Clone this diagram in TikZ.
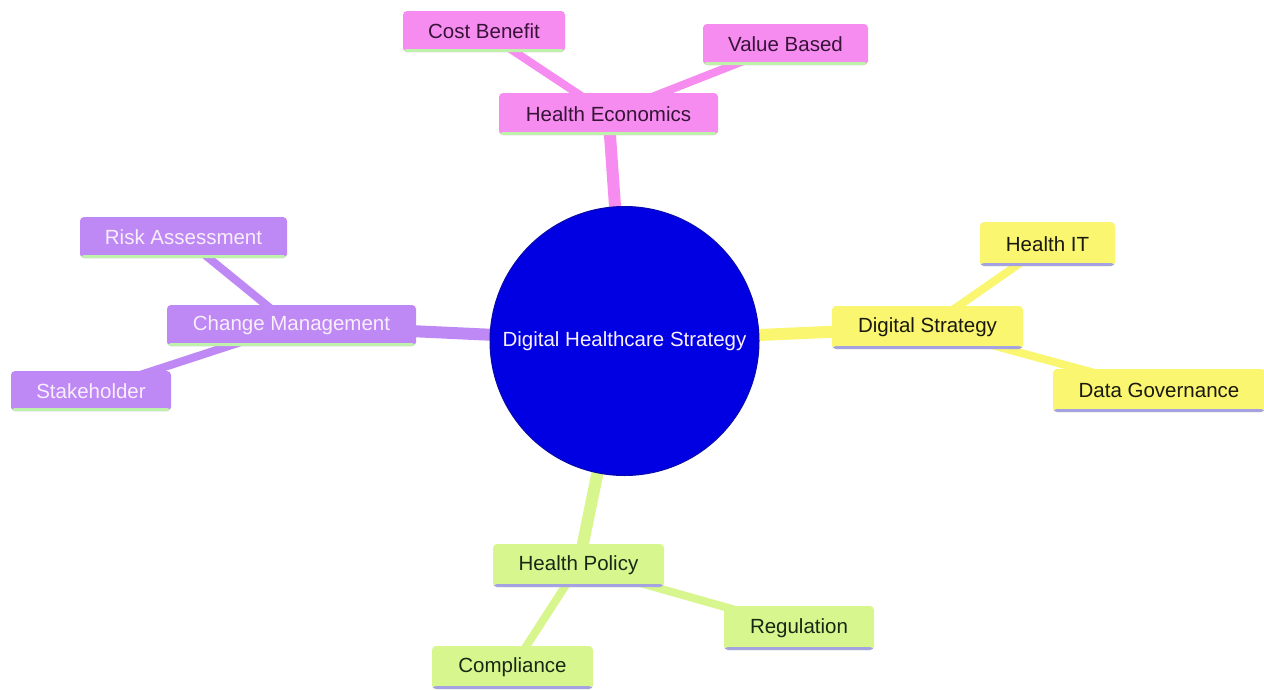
\documentclass[tikz,border=0pt]{standalone}
\usepackage{fontspec}
\setmainfont{Liberation Sans}
\usetikzlibrary{backgrounds}
\definecolor{pinkc}{RGB}{246,140,240}
\definecolor{purpc}{RGB}{190,136,245}
\definecolor{yelc}{RGB}{250,246,112}
\definecolor{grnc}{RGB}{216,246,142}
\definecolor{bluec}{RGB}{0,0,226}
\definecolor{bluedge}{RGB}{10,10,170}
\definecolor{greenstripe}{RGB}{190,242,170}
\definecolor{lavstripe}{RGB}{165,162,225}
\definecolor{pinktext}{RGB}{55,20,55}
\definecolor{purptext}{RGB}{248,238,252}
\definecolor{yeltext}{RGB}{25,25,15}
\definecolor{grntext}{RGB}{25,40,20}
\tikzset{
  box/.style n args={3}{rectangle, rounded corners=4pt, inner sep=0pt,
    fill=#1, text=#2, font=\fontsize{20.5}{24}\selectfont,
    path picture={\fill[#3] ([yshift=-0.5pt]path picture bounding box.south west) rectangle ([yshift=3pt]path picture bounding box.south east);}},
  pinkbox/.style={box={pinkc}{pinktext}{greenstripe}},
  purpbox/.style={box={purpc}{purptext}{greenstripe}},
  yelbox/.style={box={yelc}{yeltext}{lavstripe}},
  grnbox/.style={box={grnc}{grntext}{lavstripe}},
  mainedge/.style={line width=12pt, draw=#1},
  leafedge/.style={line width=8pt, draw=#1},
}
\begin{document}
\begin{tikzpicture}[x=1pt,y=-1pt]
\useasboundingbox (0,0) rectangle (1264,689);

\node[circle, fill=bluec, draw=bluedge, line width=1pt, minimum size=269pt, inner sep=0pt,
  text=purptext, font=\fontsize{20.5}{24}\selectfont] (root) at (624.5,341) {Digital Healthcare Strategy};

\node[pinkbox, minimum width=219pt, minimum height=42pt] (he) at (608.5,114) {Health Economics};
\node[pinkbox, minimum width=162pt, minimum height=41pt] (cb) at (484,31.5) {Cost Benefit};
\node[pinkbox, minimum width=165pt, minimum height=41pt] (vb) at (785.5,44.5) {Value Based};

\node[yelbox, minimum width=191pt, minimum height=43pt] (ds) at (927.5,327.5) {Digital Strategy};
\node[yelbox, minimum width=135pt, minimum height=44pt] (hit) at (1047.5,244) {Health IT};
\node[yelbox, minimum width=212pt, minimum height=43pt] (dg) at (1159,390.5) {Data Governance};

\node[purpbox, minimum width=249pt, minimum height=41pt] (cm) at (291.5,325.5) {Change Management};
\node[purpbox, minimum width=207pt, minimum height=41pt] (ra) at (183.5,237.5) {Risk Assessment};
\node[purpbox, minimum width=160pt, minimum height=40pt] (sh) at (91,391) {Stakeholder};

\node[grnbox, minimum width=171pt, minimum height=43pt] (hp) at (578.5,565.5) {Health Policy};
\node[grnbox, minimum width=150pt, minimum height=44pt] (rg) at (799,628) {Regulation};
\node[grnbox, minimum width=161pt, minimum height=43pt] (cp) at (512.5,667.5) {Compliance};

\begin{scope}[on background layer]
\fill[white] (0,0) rectangle (1264,689);
\draw[mainedge=pinkc] (root.center) -- (he.center);
\draw[mainedge=yelc] (root.center) -- (ds.center);
\draw[mainedge=purpc] (root.center) -- (cm.center);
\draw[mainedge=grnc] (root.center) -- (hp.center);
\draw[leafedge=pinkc] (he.center) -- (cb.center);
\draw[leafedge=pinkc] (he.center) -- (vb.center);
\draw[leafedge=yelc] (ds.center) -- (hit.center);
\draw[leafedge=yelc] (ds.center) -- (dg.center);
\draw[leafedge=purpc] (cm.center) -- (ra.center);
\draw[leafedge=purpc] (cm.center) -- (sh.center);
\draw[leafedge=grnc] (hp.center) -- (rg.center);
\draw[leafedge=grnc] (hp.center) -- (cp.center);
\end{scope}
\end{tikzpicture}
\end{document}
